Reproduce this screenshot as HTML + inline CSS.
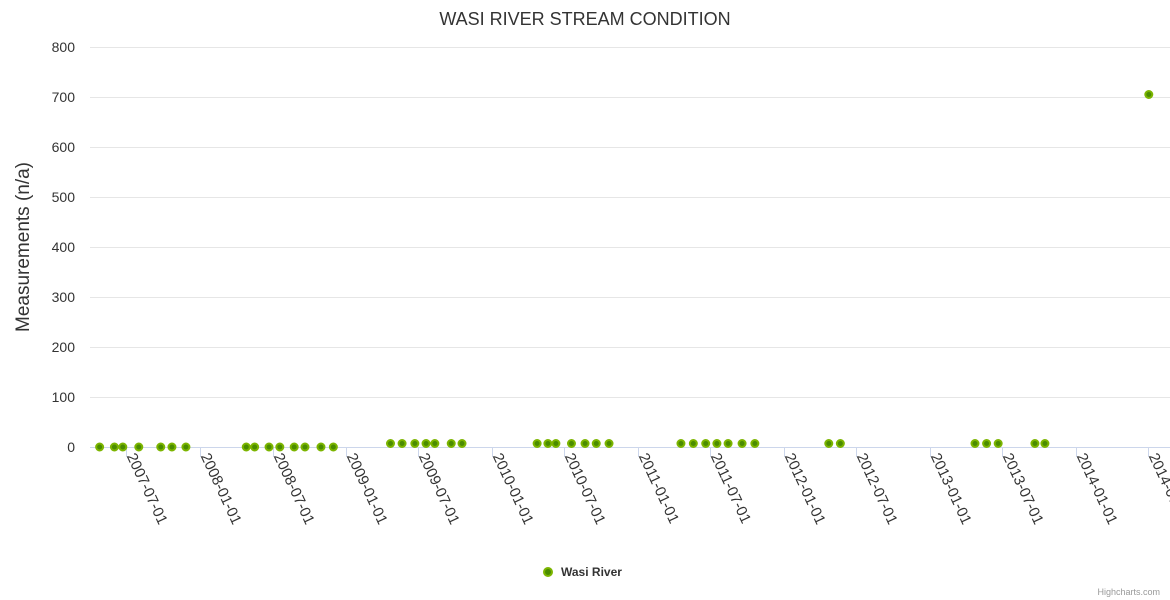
<!DOCTYPE html>
<html><head><meta charset="utf-8">
<style>
body{margin:0;background:#fff;}
svg{display:block;font-family:"Liberation Sans",sans-serif;}
</style></head>
<body>
<svg id="chart" width="1170" height="600">
<rect width="1170" height="600" fill="#fff"/>
<text x="585" y="25" text-anchor="middle" font-size="18" fill="#333">WASI RIVER STREAM CONDITION</text>
<text transform="translate(29,247) rotate(-90)" text-anchor="middle" font-size="19" fill="#333">Measurements (n/a)</text>
<g id="grid"></g><g id="xaxis"></g><g id="pts"></g>
<g>
<circle cx="548" cy="572" r="4" fill="#4a8c00" stroke="#7cb500" stroke-width="2"/>
<text x="561" y="576" font-size="12" font-weight="bold" fill="#333">Wasi River</text>
</g>
<text x="1160" y="595" text-anchor="end" font-size="9" fill="#999">Highcharts.com</text>
</svg>
<script>
const dates=["2007-04-25","2007-06-01","2007-06-22","2007-08-01","2007-09-25","2007-10-23","2007-11-27","2008-04-26","2008-05-17","2008-06-22","2008-07-19","2008-08-24","2008-09-20","2008-10-30","2008-11-30","2009-04-22","2009-05-21","2009-06-22","2009-07-20","2009-08-11","2009-09-21","2009-10-18","2010-04-24","2010-05-21","2010-06-10","2010-07-19","2010-08-22","2010-09-19","2010-10-21","2011-04-19","2011-05-20","2011-06-20","2011-07-18","2011-08-15","2011-09-19","2011-10-21","2012-04-23","2012-05-22","2013-04-24","2013-05-23","2013-06-21","2013-09-21","2013-10-16","2014-07-03"];
const values=[0,0,0,0,0,0,0,0,0,0,0,0,0,0,0,7,7,7,7,7,7,7,7,7,7,7,7,7,7,7,7,7,7,7,7,7,7,7,7,7,7,7,7,705];
const yTicks=[0,100,200,300,400,500,600,700,800];
const xTicks=["2007-07-01","2008-01-01","2008-07-01","2009-01-01","2009-07-01","2010-01-01","2010-07-01","2011-01-01","2011-07-01","2012-01-01","2012-07-01","2013-01-01","2013-07-01","2014-01-01","2014-07-01"];
const NS="http://www.w3.org/2000/svg";
const t0=Date.UTC(2007,6,1),t1=Date.UTC(2014,6,1);
function xs(d){const t=Date.parse(d+"T00:00:00Z");return 126.4+(t-t0)/(t1-t0)*(1148-126.4);}
function ys(v){return 447-v*0.5;}
function mk(tag,attrs,parent){const e=document.createElementNS(NS,tag);for(const k in attrs)e.setAttribute(k,attrs[k]);parent.appendChild(e);return e;}
const grid=document.getElementById('grid'),xa=document.getElementById('xaxis'),pts=document.getElementById('pts');
yTicks.forEach(v=>{
 const l=mk('line',{x1:90,x2:1170,y1:ys(v)+0.5,y2:ys(v)+0.5,stroke:v===0?'#ccd6eb':'#e6e6e6','stroke-width':1},grid);
 
 
 const t=mk('text',{x:75,y:ys(v)+5,'text-anchor':'end','font-size':14,fill:'#333'},grid);
 t.textContent=v;
 
 
});
xTicks.forEach(d=>{
 const x=Math.round(xs(d))+0.5;
 const l=mk('line',{x1:x,x2:x,y1:447,y2:457,stroke:'#ccd6eb'},xa);
 
 
 const t=mk('text',{transform:`translate(${x},456) rotate(65)`,'font-size':15,fill:'#333'},xa);
 t.textContent=d;
 
 
});
dates.forEach((d,i)=>{
 const c=mk('circle',{cx:xs(d),cy:ys(values[i]),r:3.5,fill:'#4a8c00',stroke:'#7cb500','stroke-width':2},pts);
 
 
});
</script>
</body></html>
